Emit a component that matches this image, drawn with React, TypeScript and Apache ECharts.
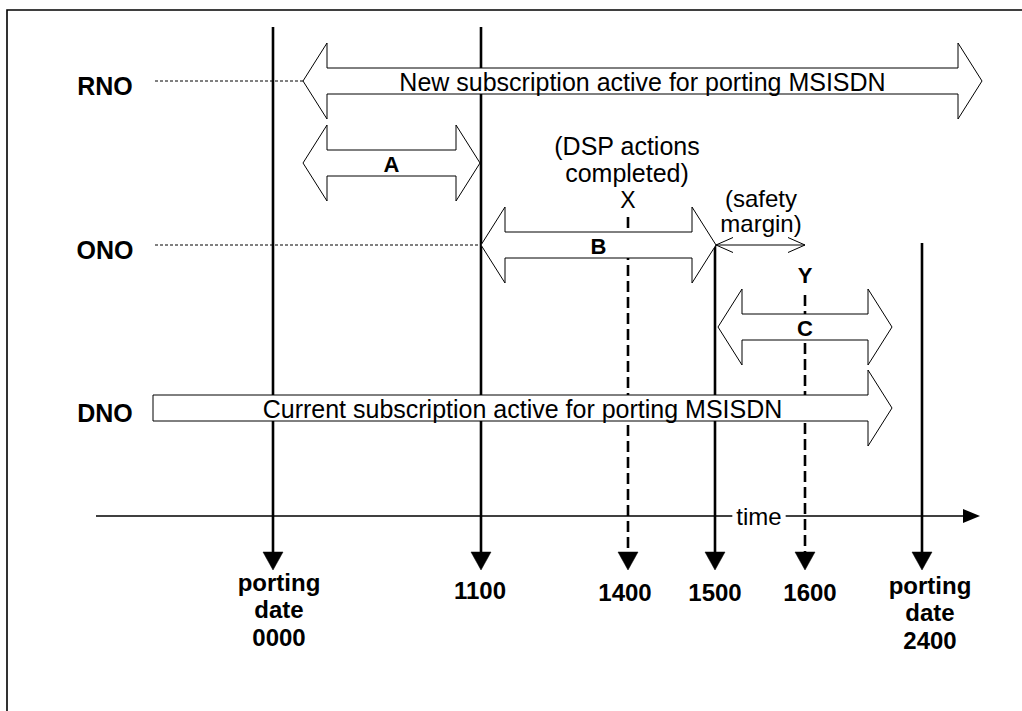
import React, { useEffect, useRef } from 'react';
import * as echarts from 'echarts';

const FONT = '"Liberation Sans", Arial, Helvetica, sans-serif';

// ---------------- data (diagram units) ----------------
// operator rows
const rowNames = ['RNO', 'ONO', 'DNO'];
const rowLane = [81, 245, 408];
const rowLeaderEnd = [303, 481, 0]; // 0 = no dotted leader
const rowLabelX = 105;
const rowLeaderStart = 155;

// milestones on the time line
const milestoneLabels = ['porting\ndate\n0000', '1100', '1400', '1500', '1600', 'porting\ndate\n2400'];
const milestoneX = [273, 481, 628, 715, 805, 922];
const milestoneTop = [27, 27, 217, 245, 295, 243];
const milestoneDashed = [false, false, true, false, true, false];
const milestoneLabelX = [279, 480, 625, 715, 810, 930];
const milestoneLabelY = [582, 590, 592, 592, 592, 585];
const milestoneArrowTip = 570;

// block arrows (periods)
const bandLabels = [
  'New subscription active for porting MSISDN',
  'A',
  'B',
  'C',
  'Current subscription active for porting MSISDN',
];
const bandFrom = [303, 303, 481, 718, 153];
const bandTo = [982, 480, 716, 892, 892];
const bandLane = [81, 163, 245, 327, 408];
const bandTwoHeaded = [true, true, true, true, false];
const bandBold = [false, true, true, true, false];

// annotations
const noteTexts = ['(DSP actions\ncompleted)', 'X', '(safety\nmargin)', 'Y'];
const noteX = [627, 628, 761, 805];
const noteY = [159, 200, 211, 275];
const noteBold = [false, false, false, true];
const noteSize = [25, 23, 24, 22];
const noteLineHeight = [27, 24, 25, 24];

// safety margin arrow
const safetyFrom = [716];
const safetyTo = [805];
const safetyLane = [245];

// time axis
const timeAxisFrom = [96];
const timeAxisTo = [980];
const timeAxisLevel = [516];
const timeLabelX = [759];
const timeLabel = ['time'];

// ---------------- styles ----------------
const HEAD_LEN = 24;
const HEAD_HALF = 38;
const SHAFT_HALF = 13;

function custom(name: string, data: any[], renderItem: any, z: number) {
  return {
    type: 'custom',
    name,
    coordinateSystem: 'cartesian2d',
    data,
    renderItem,
    silent: true,
    clip: false,
    z,
  };
}

function renderMilestone(params: any, api: any) {
  const i = params.dataIndex;
  const top = api.coord([milestoneX[i], milestoneTop[i]]);
  const tip = api.coord([milestoneX[i], milestoneArrowTip]);
  const lbl = api.coord([milestoneLabelX[i], milestoneLabelY[i]]);
  const base = tip[1] - 18;
  return {
    type: 'group',
    children: [
      {
        type: 'line',
        shape: { x1: top[0], y1: top[1], x2: tip[0], y2: base },
        style: {
          stroke: '#000',
          lineWidth: 2.6,
          lineDash: milestoneDashed[i] ? [11, 5] : null,
        },
      },
      {
        type: 'polygon',
        shape: {
          points: [
            [tip[0] - 10, base],
            [tip[0] + 10, base],
            [tip[0], tip[1]],
          ],
        },
        style: { fill: '#000', stroke: '#000', lineWidth: 0.5 },
      },
      {
        type: 'text',
        style: {
          text: milestoneLabels[i],
          x: lbl[0],
          y: lbl[1] - 13.75,
          align: 'center',
          verticalAlign: 'top',
          lineHeight: 27.5,
          fontSize: 24,
          fontWeight: 'bold',
          fontFamily: FONT,
          fill: '#000',
        },
      },
    ],
  };
}

function renderRow(params: any, api: any) {
  const i = params.dataIndex;
  const lbl = api.coord([rowLabelX, rowLane[i]]);
  const children: any[] = [
    {
      type: 'text',
      style: {
        text: rowNames[i],
        x: lbl[0],
        y: lbl[1] + 5,
        align: 'center',
        verticalAlign: 'middle',
        fontSize: 25,
        fontWeight: 'bold',
        fontFamily: FONT,
        fill: '#000',
      },
    },
  ];
  if (rowLeaderEnd[i] > 0) {
    const a = api.coord([rowLeaderStart, rowLane[i]]);
    const b = api.coord([rowLeaderEnd[i], rowLane[i]]);
    children.push({
      type: 'line',
      shape: { x1: a[0], y1: a[1], x2: b[0], y2: b[1] },
      style: { stroke: '#000', lineWidth: 1, lineDash: [3, 2] },
    });
  }
  return { type: 'group', children };
}

function renderBand(params: any, api: any) {
  const i = params.dataIndex;
  const a = api.coord([bandFrom[i], bandLane[i]]);
  const b = api.coord([bandTo[i], bandLane[i]]);
  const y = a[1];
  const st = y - SHAFT_HALF;
  const sb = y + SHAFT_HALF;
  const ht = y - HEAD_HALF;
  const hb = y + HEAD_HALF;
  const rb = b[0] - HEAD_LEN;
  let points: number[][];
  if (bandTwoHeaded[i]) {
    const lb = a[0] + HEAD_LEN;
    points = [
      [a[0], y],
      [lb, ht],
      [lb, st],
      [rb, st],
      [rb, ht],
      [b[0], y],
      [rb, hb],
      [rb, sb],
      [lb, sb],
      [lb, hb],
    ];
  } else {
    points = [
      [a[0], st],
      [rb, st],
      [rb, ht],
      [b[0], y],
      [rb, hb],
      [rb, sb],
      [a[0], sb],
    ];
  }
  const cx = (a[0] + b[0]) / 2;
  return {
    type: 'group',
    children: [
      {
        type: 'polygon',
        shape: { points },
        style: { fill: '#fff', stroke: '#000', lineWidth: 1 },
      },
      {
        type: 'text',
        style: {
          text: bandLabels[i],
          x: cx,
          y: y + 1,
          align: 'center',
          verticalAlign: 'middle',
          fontSize: bandBold[i] ? 22 : 25,
          fontWeight: bandBold[i] ? 'bold' : 'normal',
          fontFamily: FONT,
          fill: '#000',
        },
      },
    ],
  };
}

function renderNote(params: any, api: any) {
  const i = params.dataIndex;
  const p = api.coord([noteX[i], noteY[i]]);
  return {
    type: 'text',
    style: {
      text: noteTexts[i],
      x: p[0],
      y: p[1],
      align: 'center',
      verticalAlign: 'middle',
      lineHeight: noteLineHeight[i],
      fontSize: noteSize[i],
      fontWeight: noteBold[i] ? 'bold' : 'normal',
      fontFamily: FONT,
      fill: '#000',
    },
  };
}

function renderSafety(params: any, api: any) {
  const i = params.dataIndex;
  const a = api.coord([safetyFrom[i], safetyLane[i]]);
  const b = api.coord([safetyTo[i], safetyLane[i]]);
  const L = 17;
  const h = 7.5;
  const st = { stroke: '#000', lineWidth: 1, fill: null };
  return {
    type: 'group',
    children: [
      { type: 'line', shape: { x1: a[0], y1: a[1], x2: b[0], y2: b[1] }, style: st },
      {
        type: 'polyline',
        shape: { points: [[a[0] + L, a[1] - h], [a[0], a[1]], [a[0] + L, a[1] + h]] },
        style: st,
      },
      {
        type: 'polyline',
        shape: { points: [[b[0] - L, b[1] - h], [b[0], b[1]], [b[0] - L, b[1] + h]] },
        style: st,
      },
    ],
  };
}

function renderTimeAxis(params: any, api: any) {
  const i = params.dataIndex;
  const a = api.coord([timeAxisFrom[i], timeAxisLevel[i]]);
  const b = api.coord([timeAxisTo[i], timeAxisLevel[i]]);
  return {
    type: 'group',
    children: [
      {
        type: 'line',
        shape: { x1: a[0], y1: a[1], x2: b[0] - 17, y2: b[1] },
        style: { stroke: '#000', lineWidth: 1.3 },
      },
      {
        type: 'polygon',
        shape: { points: [[b[0] - 17, b[1] - 7], [b[0], b[1]], [b[0] - 17, b[1] + 7]] },
        style: { fill: '#000' },
      },
    ],
  };
}

function renderTimeLabel(params: any, api: any) {
  const i = params.dataIndex;
  const t = api.coord([timeLabelX[i], timeAxisLevel[i]]);
  return {
    type: 'text',
    style: {
      text: timeLabel[i],
      x: t[0],
      y: t[1],
      align: 'center',
      verticalAlign: 'middle',
      fontSize: 24,
      fontFamily: FONT,
      fill: '#000',
      backgroundColor: '#fff',
      padding: [0, 4],
    },
  };
}

export default function App() {
  const ref = useRef<HTMLDivElement>(null);
  useEffect(() => {
    if (!ref.current) return;
    const chart = echarts.init(ref.current, undefined, { renderer: 'svg' });
    const option: any = {
      animation: false,
      backgroundColor: '#fff',
      grid: { left: 0, right: 0, top: 0, bottom: 0 },
      xAxis: { type: 'value', min: 0, max: 1022, show: false },
      yAxis: { type: 'value', min: 0, max: 711, inverse: true, show: false },
      graphic: [
        {
          type: 'rect',
          shape: { x: 7, y: 10, width: 1100, height: 800 },
          style: { fill: 'none', stroke: '#000', lineWidth: 1.6 },
          silent: true,
        },
      ],
      series: [
        custom('time axis', timeAxisFrom.map((x, i) => [x, timeAxisLevel[i]]), renderTimeAxis, 1),
        custom('rows', rowNames.map((_, i) => [rowLeaderStart, rowLane[i]]), renderRow, 2),
        custom('milestones', milestoneX.map((x, i) => [x, milestoneTop[i]]), renderMilestone, 3),
        custom('time label', timeLabelX.map((x, i) => [x, timeAxisLevel[i]]), renderTimeLabel, 4),
        custom('periods', bandFrom.map((x, i) => [x, bandLane[i]]), renderBand, 5),
        custom('safety margin', safetyFrom.map((x, i) => [x, safetyLane[i]]), renderSafety, 6),
        custom('notes', noteX.map((x, i) => [x, noteY[i]]), renderNote, 7),
      ],
    };
    chart.setOption(option);
    return () => chart.dispose();
  }, []);
  return (
    <div
      ref={ref}
      style={{ position: 'fixed', left: 0, top: 0, width: 1022, height: 711, background: '#fff' }}
    />
  );
}
